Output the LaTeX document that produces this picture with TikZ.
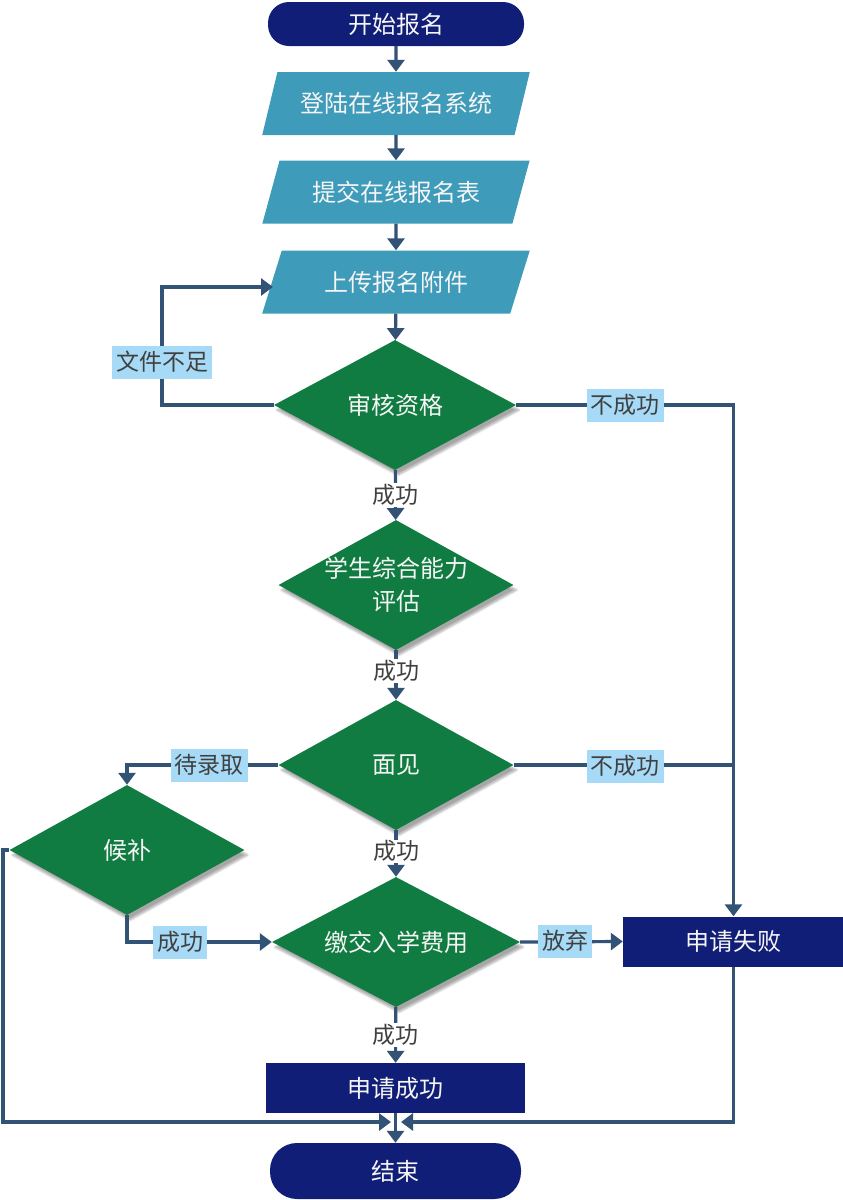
\documentclass[tikz,border=0pt]{standalone}
\usepackage{fontspec}
\setmainfont{Noto Sans CJK SC}
\usetikzlibrary{shapes.geometric,arrows.meta,shadows.blur}
\definecolor{navy}{RGB}{17,30,120}
\definecolor{teal}{RGB}{63,155,186}
\definecolor{dgreen}{RGB}{16,124,65}
\definecolor{lineblue}{RGB}{50,82,118}
\definecolor{lblue}{RGB}{166,218,246}
\definecolor{labtext}{RGB}{64,64,64}
\definecolor{wtext}{RGB}{245,245,245}
\tikzset{
  bigfont/.style={font=\fontsize{24}{33}\selectfont},
  term/.style={bigfont, fill=navy, text=wtext, rounded corners=21pt, inner sep=0pt},
  para/.style={bigfont, trapezium, trapezium left angle=61, trapezium right angle=119,
    trapezium stretches=true, fill=teal, text=wtext, inner sep=0pt, minimum width=268pt, minimum height=63pt},
  dec/.style={diamond, fill=dgreen, inner sep=0pt,
    minimum height=130pt, blur shadow={shadow xshift=3pt, shadow yshift=-5pt, shadow blur steps=6, shadow opacity=35}},
  dtext/.style={bigfont, text=wtext, align=center, inner sep=0pt},
  box/.style={bigfont, rectangle, fill=navy, text=wtext, inner sep=0pt},
  lab/.style={font=\fontsize{23}{26}\selectfont, fill=lblue, text=labtext, inner xsep=4pt, inner ysep=0pt, minimum height=33pt},
  plab/.style={font=\fontsize{23}{26}\selectfont, fill=white, text=labtext, inner sep=1pt},
  arr/.style={draw=lineblue, line width=3.2pt, -{Triangle[width=17pt,length=12pt]}},
  ln/.style={draw=lineblue, line width=3.2pt},
}
\begin{document}
\begin{tikzpicture}[x=1pt,y=-1pt]
\useasboundingbox (0,0) rectangle (843,1200);
% nodes
\node[term, minimum width=256pt, minimum height=44pt] (start) at (396,24) {开始报名};
\node[para] (p1) at (396,103.5) {登陆在线报名系统};
\node[para] (p2) at (396,192) {提交在线报名表};
\node[para] (p3) at (396,282) {上传报名附件};
\node[dec, minimum width=242pt, label={[dtext]center:审核资格}] (d1) at (395,405) {};
\node[dec, minimum width=235pt, label={[dtext]center:{学生综合能力\\评估}}] (d2) at (396,585) {};
\node[dec, minimum width=235pt, label={[dtext]center:面见}] (d3) at (396,765) {};
\node[dec, minimum width=248pt, label={[dtext]center:缴交入学费用}] (d4) at (396,942) {};
\node[dec, minimum width=235pt, label={[dtext]center:候补}] (d5) at (127,850) {};
\node[box, minimum width=259pt, minimum height=50pt] (succ) at (395.5,1088) {申请成功};
\node[box, minimum width=221pt, minimum height=50pt] (fail) at (733.5,941.5) {申请失败};
\node[term, rounded corners=27pt, minimum width=251pt, minimum height=56pt] (end) at (395.5,1171) {结束};
\coordinate (jx) at (396,1122);
\coordinate (wl) at (162,405);
\coordinate (p3in) at (273,287);
\coordinate (ll) at (3,850);
% connectors
\draw[arr] (start) -- (p1);
\draw[arr] (p1) -- (p2);
\draw[arr] (p2) -- (p3);
\draw[arr] (p3) -- (d1);
\draw[arr] (d1) -- node[plab]{成功} (d2);
\draw[arr] (d2) -- node[plab, pos=0.42]{成功} (d3);
\draw[arr] (d3) -- node[plab, pos=0.45]{成功} (d4);
\draw[arr] (d4) -- node[plab]{成功} (succ);
\draw[arr] (succ) -- (end);
\draw[arr] (d1.west) -- (wl) |- (p3in);
\draw[arr] (d1.east) -| (fail.north);
\draw[ln] (d3.east) -- (d3.east -| fail.north);
\draw[arr] (d3.west) -| (d5.north);
\draw[arr] (d5.south) |- (d4.west);
\draw[arr] (d4.east) -- (fail.west);
\draw[arr] (d5.west) -- (ll) |- ([xshift=-5pt]jx);
\draw[arr] (fail.south) |- ([xshift=5pt]jx);
% labels
\node[lab] (l1) at (162,362) {文件不足};
\node[lab] (l2) at (625,405) {不成功};
\node[lab] (l3) at (625,766) {不成功};
\node[lab] (l4) at (209,765) {待录取};
\node[lab] (l5) at (180,942) {成功};
\node[lab] (l6) at (565,941) {放弃};
\end{tikzpicture}
\end{document}
